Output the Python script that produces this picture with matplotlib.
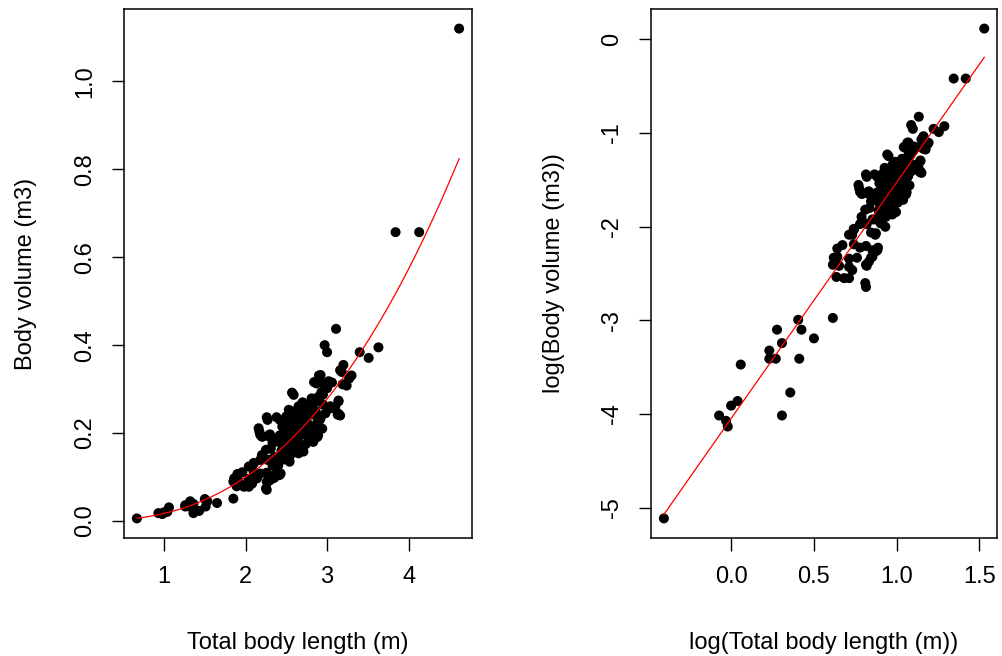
import matplotlib
matplotlib.use("Agg")
import matplotlib.pyplot as plt
import numpy as np

plt.rcParams['font.family'] = ['Liberation Sans', 'DejaVu Sans']

# body length (m) and body volume (m3)
length = [
    0.666, 0.93, 0.97, 0.98, 1.00, 1.04, 1.06,
    1.26, 1.26, 1.31, 1.36, 1.32, 1.36, 1.43,
    1.50, 1.53, 1.65, 1.51,
    1.85, 1.89, 1.85, 2.04, 2.04, 2.08, 2.26, 2.26, 2.30,
    1.90, 1.96, 1.90, 2.04, 2.33, 2.40, 2.42, 2.35, 2.26, 2.40, 2.54, 2.21,
    2.10, 2.16, 2.20, 2.30, 2.26, 2.38, 2.57,
    3.11, 2.97, 3.00, 3.40, 3.63, 3.51, 3.84, 4.13, 4.62,
    3.20, 3.30, 2.90, 2.96, 3.14, 3.14,
    3.16, 3.18, 3.27, 3.24,
    2.92, 3.02, 2.84, 2.97, 2.93, 3.19, 2.89, 2.81, 2.84, 3.14,
    2.65, 2.53, 2.61, 3.04, 3.02, 3.13, 3.16, 2.90, 2.92,
    2.67, 2.73, 2.80, 2.45, 2.51, 2.57, 2.63, 2.69,
    2.18, 2.29, 2.84, 2.88, 2.82, 2.49, 2.59, 2.65, 2.73, 2.78,
    2.33, 2.39, 2.45, 2.53, 2.61, 2.67, 2.71, 2.65, 2.55, 2.49,
    2.20, 2.25, 2.18, 2.27, 2.35, 2.10, 2.08, 2.39, 2.33, 2.39,
    2.43, 2.35, 2.27, 2.25, 1.86, 1.92, 1.98, 2.18, 2.14, 2.04, 2.10,
    3.06, 2.87, 3.00, 2.95, 2.91, 3.06, 3.10, 2.91, 2.85, 2.89, 2.83,
    2.59, 2.27, 2.42, 2.56, 2.68, 2.71, 2.17, 2.21, 2.29,
    2.47, 2.55, 2.62, 2.70, 2.76, 2.80, 2.58, 2.64, 2.74, 2.52,
    2.44, 2.60, 2.75, 2.70, 2.78, 2.86, 2.95, 2.98, 2.50, 2.36,
    2.42, 2.31, 2.47, 2.56, 2.68, 2.88, 2.94, 2.76, 2.66, 2.58,
]
volume = [
    0.006, 0.018, 0.017, 0.016, 0.020, 0.021, 0.031,
    0.036, 0.033, 0.033, 0.039, 0.045, 0.018, 0.023,
    0.050, 0.045, 0.041, 0.033,
    0.051, 0.079, 0.090, 0.078, 0.088, 0.085, 0.071, 0.090, 0.093,
    0.107, 0.111, 0.098, 0.096, 0.097, 0.104, 0.105, 0.098, 0.110, 0.126, 0.135, 0.143,
    0.132, 0.211, 0.192, 0.197, 0.236, 0.236, 0.292,
    0.437, 0.400, 0.384, 0.384, 0.395, 0.371, 0.657, 0.657, 1.120,
    0.355, 0.331, 0.331, 0.313, 0.272, 0.244,
    0.343, 0.339, 0.324, 0.308,
    0.332, 0.318, 0.316, 0.303, 0.293, 0.311, 0.282, 0.279, 0.269, 0.274,
    0.261, 0.253, 0.246, 0.261, 0.255, 0.242, 0.240, 0.238, 0.234,
    0.246, 0.238, 0.242, 0.215, 0.219, 0.223, 0.227, 0.230,
    0.196, 0.196, 0.204, 0.191, 0.185, 0.200, 0.204, 0.192, 0.196, 0.185,
    0.177, 0.181, 0.173, 0.169, 0.177, 0.166, 0.158, 0.154, 0.150, 0.154,
    0.150, 0.162, 0.139, 0.139, 0.146, 0.131, 0.124, 0.146, 0.127, 0.124,
    0.108, 0.105, 0.089, 0.074, 0.097, 0.089, 0.078, 0.108, 0.097, 0.124, 0.112,
    0.315, 0.313, 0.302, 0.288, 0.281, 0.257, 0.259, 0.230, 0.215, 0.195, 0.180,
    0.287, 0.230, 0.230, 0.250, 0.259, 0.246, 0.203, 0.192, 0.192,
    0.190, 0.185, 0.210, 0.215, 0.222, 0.200, 0.170, 0.180, 0.175, 0.205,
    0.160, 0.235, 0.265, 0.270, 0.255, 0.250, 0.265, 0.245, 0.238, 0.185,
    0.195, 0.165, 0.140, 0.162, 0.200, 0.225, 0.210, 0.205, 0.225, 0.215,
]

# log-log regression line as drawn (intercept, slope)
fit_intercept = -4.05
fit_slope = 2.52

left_xticks = [1, 2, 3, 4]
left_yticks = [0.0, 0.2, 0.4, 0.6, 0.8, 1.0]
right_xticks = [0.0, 0.5, 1.0, 1.5]
right_yticks = [0, -1, -2, -3, -4, -5]

length = np.array(length)
volume = np.array(volume)
log_len = np.log(length)
log_vol = np.log(volume)


def r_lim(v):
    # R's default 4% padding around the data range
    lo, hi = v.min(), v.max()
    pad = 0.04 * (hi - lo)
    return lo - pad, hi + pad


def style_axes(ax, xticks, yticks, xfmt, yfmt, xlabel, ylabel, ylab_x):
    ax.set_xticks(xticks)
    ax.set_yticks(yticks)
    ax.set_xticklabels([xfmt.format(t) for t in xticks])
    ax.set_yticklabels([yfmt.format(t) for t in yticks], rotation=90, va='center')
    ax.tick_params(direction='out', length=9, width=1, labelsize=17, pad=11, color='black')
    for s in ax.spines.values():
        s.set_linewidth(1.1)
    ax.set_xlabel(xlabel, fontsize=17)
    ax.set_ylabel(ylabel, fontsize=17)
    ax.xaxis.set_label_coords(0.5, -0.178)
    ax.yaxis.set_label_coords(ylab_x, 0.5)


fig = plt.figure(figsize=(10.03, 6.56), dpi=100)
ax1 = fig.add_axes([0.1236, 0.1799, 0.3470, 0.8064])
ax2 = fig.add_axes([0.6491, 0.1799, 0.3450, 0.8064])

# left: raw values with power curve
ax1.scatter(length, volume, s=52, c='black', edgecolors='none', zorder=3)
xx = np.linspace(length.min(), length.max(), 200)
ax1.plot(xx, np.exp(fit_intercept) * xx ** fit_slope, color='red', lw=0.9, zorder=4)
ax1.set_xlim(*r_lim(length))
ax1.set_ylim(*r_lim(volume))
style_axes(ax1, left_xticks, left_yticks, '{:g}', '{:.1f}',
           'Total body length (m)', 'Body volume (m3)', -0.25)

# right: log-log with straight fit
ax2.scatter(log_len, log_vol, s=52, c='black', edgecolors='none', zorder=3)
lx = np.array([log_len.min(), log_len.max()])
ax2.plot(lx, fit_intercept + fit_slope * lx, color='red', lw=0.9, zorder=4)
ax2.set_xlim(*r_lim(log_len))
ax2.set_ylim(*r_lim(log_vol))
style_axes(ax2, right_xticks, right_yticks, '{:.1f}', '{:g}',
           'log(Total body length (m))', 'log(Body volume (m3))', -0.25)

fig.savefig('out.png', dpi=100)
